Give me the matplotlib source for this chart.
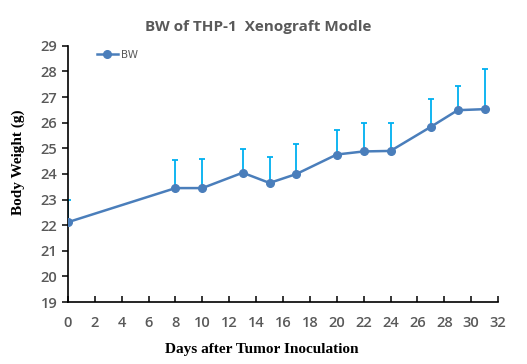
import matplotlib.pyplot as plt

# Body weight data
days = [0, 8, 10, 13, 15, 17, 20, 22, 24, 27, 29, 31]
bw_mean = [22.12, 23.45, 23.45, 24.05, 23.65, 24.0, 24.76, 24.88, 24.9, 25.84, 26.49, 26.53]
bw_err = [0.88, 1.1, 1.13, 0.93, 1.01, 1.17, 0.96, 1.1, 1.08, 1.08, 0.96, 1.58]

fig = plt.figure(figsize=(5.27, 3.64), dpi=100)
ax = fig.add_axes([0.129, 0.170, 0.816, 0.704])

# Upper-only error bars, drawn behind the line
ax.errorbar(days, bw_mean, yerr=[[0] * len(bw_err), bw_err], fmt='none',
            ecolor='#00b0f0', elinewidth=1.3, capsize=2.5, capthick=1.3, zorder=2)
ax.plot(days, bw_mean, color='#4a7ebb', linewidth=1.8, marker='o',
        markersize=5.5, label='BW', zorder=3)

ax.set_xlim(0, 32)
ax.set_ylim(19, 29)
ax.set_xticks(range(0, 33, 2))
ax.set_yticks(range(19, 30))

for side in ['top', 'right']:
    ax.spines[side].set_visible(False)
for side in ['left', 'bottom']:
    ax.spines[side].set_linewidth(1.2)
    ax.spines[side].set_color('black')

ax.tick_params(axis='y', direction='out', length=4, width=1.1, colors='black',
               labelcolor='#595959', labelsize=10.5)
ax.tick_params(axis='x', direction='in', length=4, width=1.1, colors='black',
               labelcolor='#595959', labelsize=10.5, pad=10)
for lbl in ax.get_xticklabels() + ax.get_yticklabels():
    lbl.set_family('Open Sans')
    lbl.set_fontweight('semibold')

# Title and axis labels are a little off-centre in the original
fig.text(0.49, 0.925, "BW of THP-1  Xenograft Modle", fontsize=11, color='#595959',
         fontweight='bold', family='Open Sans', ha='center', va='center')
ax.set_xlabel("Days after Tumor Inoculation", fontsize=11, fontweight='bold',
              family='Liberation Serif', labelpad=10)
ax.xaxis.set_label_coords(0.45, -0.16)
ax.set_ylabel("Body Weight (g)", fontsize=11, fontweight='bold',
              family='Liberation Serif')
ax.yaxis.set_label_coords(-0.1, 0.545)

ax.legend(loc='upper left', bbox_to_anchor=(0.045, 1.02), frameon=False,
          fontsize=7.5, handlelength=2.0, handletextpad=0.3, labelcolor='#595959')

fig.savefig('out.png', dpi=100)
